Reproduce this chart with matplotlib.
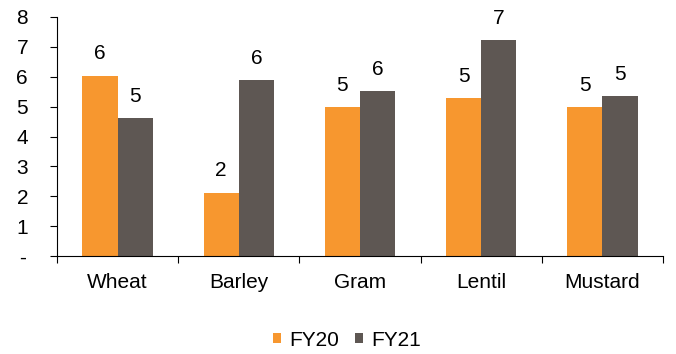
import matplotlib
matplotlib.use("Agg")
import matplotlib.pyplot as plt
import numpy as np

plt.rcParams['font.family'] = ['Liberation Sans', 'DejaVu Sans']

categories = ["Wheat", "Barley", "Gram", "Lentil", "Mustard"]
fy20 = [6.03, 2.12, 4.98, 5.28, 4.98]
fy21 = [4.61, 5.89, 5.51, 7.23, 5.34]
series_names = ["FY20", "FY21"]
colors = ["#F7972F", "#5E5753"]
ytick_labels = ["-", "1", "2", "3", "4", "5", "6", "7", "8"]

FS = 15

fig = plt.figure(figsize=(6.76, 3.54), dpi=100)
ax = fig.add_axes([57/676, 1 - 256/354, 606/676, 239/354])

x = np.arange(len(categories))
w = 0.29
for i, (vals, name, c) in enumerate(zip([fy20, fy21], series_names, colors)):
    pos = x + (i - 0.5) * w
    ax.bar(pos, vals, width=w, color=c, label=name, zorder=2)
    for px, v in zip(pos, vals):
        ax.annotate(f"{int(np.floor(v + 0.5))}", (px, v), xytext=(0, 9),
                    textcoords="offset points", ha="center", va="bottom",
                    fontsize=FS)

ax.set_xlim(-0.5, len(categories) - 0.5)
ax.set_ylim(0, 8)
ax.set_yticks(range(9))
ax.set_yticklabels(ytick_labels, fontsize=FS)
ax.set_xticks(x)
ax.set_xticklabels(categories, fontsize=FS)
ax.tick_params(axis='x', length=0, pad=12)
ax.set_xticks(np.arange(-0.5, len(categories), 1), minor=True)
ax.tick_params(axis='x', which='minor', length=5, width=0.8, direction='out')
ax.tick_params(axis='y', length=5, width=0.8, direction='out', pad=20)
for lbl in ax.get_yticklabels():
    lbl.set_horizontalalignment("center")

for s in ["top", "right"]:
    ax.spines[s].set_visible(False)
for s in ["left", "bottom"]:
    ax.spines[s].set_linewidth(0.8)
    ax.spines[s].set_color("black")

fig.legend(loc="center", bbox_to_anchor=(347/676, 1 - 340/354), ncol=2,
           frameon=False, fontsize=FS, handlelength=0.35, handleheight=0.35,
           handletextpad=0.4, columnspacing=0.8)

fig.savefig("out.png", dpi=100)
